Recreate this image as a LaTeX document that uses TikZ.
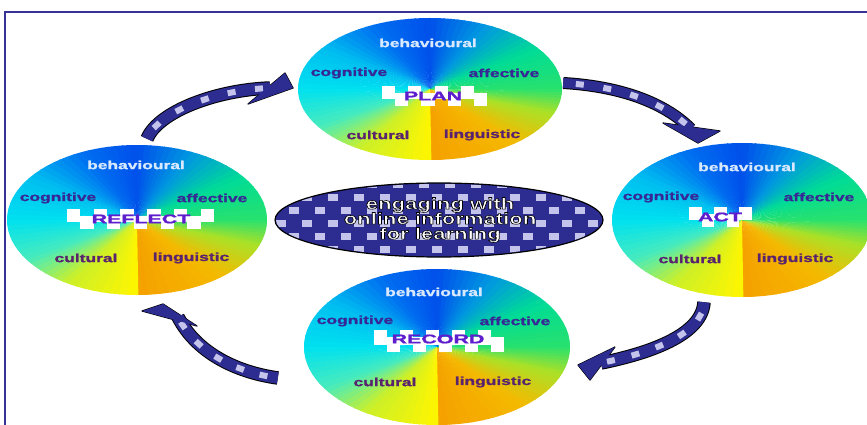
\documentclass[tikz,border=0pt]{standalone}
\usepackage{fontspec}
\usepackage{graphicx}
\usetikzlibrary{shapes.geometric,decorations.markings}
\newfontfamily\labfont{Liberation Sans}[BoldFeatures={FakeBold=1.2}]
\newfontfamily\hubfont{Liberation Sans}

\definecolor{navy}{RGB}{45,45,145}
\definecolor{rim}{RGB}{55,50,150}
\definecolor{patch}{RGB}{195,195,235}
\definecolor{lightlab}{RGB}{215,232,255}
\definecolor{upperlab}{RGB}{55,40,150}
\definecolor{lowerlab}{RGB}{90,35,110}
\definecolor{centrelab}{RGB}{95,30,205}
\definecolor{bandwhite}{RGB}{255,255,255}
% colour stops of the conic wheel, counter-clockwise from straight down
\definecolor{cgA}{RGB}{245,160,0}
\definecolor{cgB}{RGB}{245,185,0}
\definecolor{cgC}{RGB}{170,225,40}
\definecolor{cgD}{RGB}{40,225,110}
\definecolor{cgE}{RGB}{0,220,150}
\definecolor{cgF}{RGB}{0,150,225}
\definecolor{cgG}{RGB}{0,80,235}
\definecolor{cgH}{RGB}{0,110,240}
\definecolor{cgI}{RGB}{0,190,240}
\definecolor{cgJ}{RGB}{0,225,240}
\definecolor{cgK}{RGB}{70,235,190}
\definecolor{cgL}{RGB}{205,240,40}
\definecolor{cgM}{RGB}{255,245,0}

\newcommand{\wide}[2]{\scalebox{#1}[1]{#2}}
% white letters with a thin black outline (fill and stroke render mode)
\newcommand{\outlined}[1]{\special{pdf:literal direct 0 0 0 RG 0.55 w 2 Tr}#1\special{pdf:literal direct 0 Tr}}

% conic colour wheel squeezed into an ellipse: centre x, centre y, x radius, y radius
\newcommand{\conicdisc}[4]{%
  \begin{scope}
    \clip (#1,#2) ellipse [x radius=#3, y radius=#4];
    \foreach \sa/\sb/\ca/\cb in {-90/-50/cgA/cgB,-50/-20/cgB/cgC,-20/0/cgC/cgD,
        0/35/cgD/cgE,35/65/cgE/cgF,65/90/cgF/cgG,90/115/cgG/cgH,115/145/cgH/cgI,
        145/180/cgI/cgJ,180/212/cgJ/cgK,212/238/cgK/cgL,238/270/cgL/cgM}{
      \foreach \k in {0,...,7}{
        \pgfmathsetmacro\aa{\sa+(\sb-\sa)*\k/8}
        \pgfmathsetmacro\ab{\sa+(\sb-\sa)*(\k+1)/8+0.6}
        \pgfmathsetmacro\am{(\aa+\ab)/2}
        \pgfmathtruncatemacro\pp{round(100*(\k+0.5)/8)}
        \fill[\cb!\pp!\ca] (#1,#2)
          -- ({#1+1.3*#3*cos(\aa)},{#2-1.3*#4*sin(\aa)})
          -- ({#1+1.3*#3*cos(\am)},{#2-1.3*#4*sin(\am)})
          -- ({#1+1.3*#3*cos(\ab)},{#2-1.3*#4*sin(\ab)}) -- cycle;
      }
    }
  \end{scope}%
}

% checkered white strip behind a stage name: left, top, right, bottom, columns
\newcommand{\band}[5]{%
  \pgfmathsetmacro\bh{(#4-#2)/3}
  \fill[bandwhite] (#1,{#2+\bh}) rectangle (#3,{#2+2*\bh});
  \foreach \i in {1,...,#5}{
    \pgfmathsetmacro\xa{#1+(#3-#1)*(\i-1)/#5}
    \pgfmathsetmacro\xb{#1+(#3-#1)*\i/#5}
    \ifodd\i
      \fill[bandwhite] (\xa,#2) rectangle (\xb,{#2+\bh+0.3});
    \else
      \fill[bandwhite] (\xa,{#2+2*\bh-0.3}) rectangle (\xb,#4);
    \fi
  }%
}

\begin{document}
\begin{tikzpicture}[x=1pt,y=-1pt,
  frame/.style={draw=rim, line width=2.2pt},
  disc/.style={ellipse, inner sep=0pt},
  lab/.style={inner sep=0pt, font=\labfont\bfseries\fontsize{11.6}{13}\selectfont},
  toplab/.style={lab, text=lightlab},
  midlab/.style={lab, text=upperlab},
  lowlab/.style={lab, text=lowerlab},
  keylab/.style={inner sep=0pt, text=centrelab, font=\labfont\bfseries\fontsize{12.6}{14}\selectfont},
  hub/.style={ellipse, draw=black, line width=1.2pt, fill=navy, inner sep=0pt},
  hubtext/.style={text=white, align=center, inner sep=0pt, font=\hubfont\bfseries\fontsize{16}{15}\selectfont},
  shaftrim/.style={draw=black, line width=13.5pt},
  shaftbody/.style={draw=navy, line width=11.5pt},
  headrim/.style={draw=black, line width=1.2pt, fill=navy, line join=round},
  headfill/.style={fill=navy},
  patched/.style={postaction={decorate, decoration={markings,
      mark=between positions 0.12 and 0.95 step 0.2 with
      {\fill[patch] (-4pt,-3pt) rectangle (4pt,3pt);}}}}
]
\useasboundingbox (0,0) rectangle (867,425);

% frame
\draw[frame] (5,425) -- (5,12) -- (867,12);

% the four stage wheels
\conicdisc{430}{89}{132}{71}
\node[disc, minimum width=264pt, minimum height=142pt] (plan) at (430,89) {};
\conicdisc{137}{220}{130}{75}
\node[disc, minimum width=260pt, minimum height=150pt] (reflect) at (137,220) {};
\conicdisc{742}{220}{130}{77}
\node[disc, minimum width=260pt, minimum height=154pt] (act) at (742,220) {};
\conicdisc{437}{347}{133}{78}
\node[disc, minimum width=266pt, minimum height=156pt] (record) at (437,347) {};

% PLAN labels
\node[toplab] (planB) at (428,43) {\wide{1.5}{behavioural}};
\node[midlab] (planC) at (349,73) {\wide{1.5}{cognitive}};
\node[midlab] (planA) at (504,73) {\wide{1.5}{affective}};
\band{382}{86}{487}{106}{8}
\node[keylab] (planK) at (433,96) {\wide{1.7}{PLAN}};
\node[lowlab] (planU) at (378,135) {\wide{1.5}{cultural}};
\node[lowlab] (planL) at (482,135) {\wide{1.5}{linguistic}};

% REFLECT labels
\node[toplab] (reflectB) at (136,165) {\wide{1.5}{behavioural}};
\node[midlab] (reflectC) at (58,198) {\wide{1.5}{cognitive}};
\node[midlab] (reflectA) at (212,198) {\wide{1.5}{affective}};
\band{67}{209}{214}{229}{11}
\node[keylab] (reflectK) at (141,219) {\wide{1.7}{REFLECT}};
\node[lowlab] (reflectU) at (86,258) {\wide{1.5}{cultural}};
\node[lowlab] (reflectL) at (191,258) {\wide{1.5}{linguistic}};

% ACT labels
\node[toplab] (actB) at (747,167) {\wide{1.5}{behavioural}};
\node[midlab] (actC) at (661,197) {\wide{1.5}{cognitive}};
\node[midlab] (actA) at (819,197) {\wide{1.5}{affective}};
\band{689}{207}{752}{227}{5}
\node[keylab] (actK) at (720,217) {\wide{1.7}{ACT}};
\node[lowlab] (actU) at (690,259) {\wide{1.5}{cultural}};
\node[lowlab] (actL) at (795,259) {\wide{1.5}{linguistic}};

% RECORD labels
\node[toplab] (recordB) at (434,292) {\wide{1.5}{behavioural}};
\node[midlab] (recordC) at (355,321) {\wide{1.5}{cognitive}};
\node[midlab] (recordA) at (515,321) {\wide{1.5}{affective}};
\band{374}{330}{504}{352}{10}
\node[keylab] (recordK) at (438,339) {\wide{1.7}{RECORD}};
\node[lowlab] (recordU) at (385,382) {\wide{1.5}{cultural}};
\node[lowlab] (recordL) at (493,382) {\wide{1.5}{linguistic}};

% central hub
\node[hub, minimum width=328pt, minimum height=74pt] (hub) at (439,220) {};
\begin{scope}
  \clip (439,220) ellipse [x radius=163, y radius=36];
  \foreach \r in {0,...,6}{
    \pgfmathsetmacro\yy{184+13*\r}
    \pgfmathsetmacro\off{13*mod(\r,2)}
    \foreach \c in {0,...,13}{
      \pgfmathsetmacro\xx{268+\off+26*\c}
      \fill[patch] ({\xx-5},{\yy-3.5}) rectangle ({\xx+5},{\yy+3.5});
    }
  }
\end{scope}
\node[hubtext] (hubtext) at (440,220)
  {\outlined{\wide{1.38}{engaging with}}\\
   \outlined{\wide{1.38}{online information}}\\
   \outlined{\wide{1.38}{for learning}}};

% cycle arrows
\coordinate (tip1) at (293,88);
\coordinate (end1) at (270,88);
\filldraw[headrim] (285,73) -- (tip1) -- (248,104) -- cycle;
\draw[shaftrim] ([shift={(10,-6)}]reflect.north) .. controls (158,112) and (215,90) .. (end1);
\draw[shaftbody, patched] ([shift={(10,-6)}]reflect.north) .. controls (158,112) and (215,90) .. (end1);
\fill[headfill] (285,73) -- (tip1) -- (248,104) -- cycle;

\coordinate (tip2) at (698,143);
\coordinate (end2) at (691,129);
\filldraw[headrim] (663,123) -- (tip2) -- (720,131) -- cycle;
\draw[shaftrim, line width=12pt] ([shift={(1,-6)}]plan.east) .. controls (615,86) and (662,100) .. (end2);
\draw[shaftbody, line width=10pt, patched] ([shift={(1,-6)}]plan.east) .. controls (615,86) and (662,100) .. (end2);
\fill[headfill] (663,123) -- (tip2) -- (720,131) -- cycle;

\coordinate (tip3) at (578,365);
\coordinate (end3) at (601,363);
\filldraw[headrim] (615,347) -- (tip3) -- (590,380) -- cycle;
\draw[shaftrim] ([shift={(-38,5)}]act.south) .. controls (702,335) and (650,353) .. (end3);
\draw[shaftbody, patched] ([shift={(-38,5)}]act.south) .. controls (702,335) and (650,353) .. (end3);
\fill[headfill] (615,347) -- (tip3) -- (590,380) -- cycle;

\coordinate (tip4) at (142,311);
\coordinate (end4) at (178,317);
\filldraw[headrim] (163,304) -- (tip4) -- (197,326) -- cycle;
\draw[shaftrim] ([shift={(-26,31)}]record.west) .. controls (235,372) and (196,352) .. (end4);
\draw[shaftbody, patched] ([shift={(-26,31)}]record.west) .. controls (235,372) and (196,352) .. (end4);
\fill[headfill] (163,304) -- (tip4) -- (197,326) -- cycle;
\end{tikzpicture}
\end{document}
